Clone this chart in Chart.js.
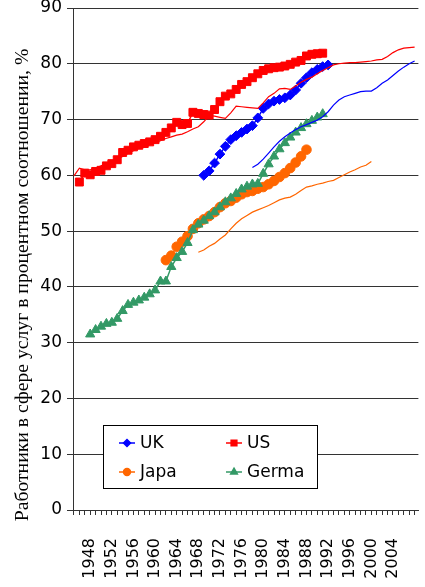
<!DOCTYPE html>
<html>
<head>
<meta charset="utf-8">
<script src="https://cdn.jsdelivr.net/npm/chart.js@4.4.1/dist/chart.umd.min.js"></script>
<style>
  html, body { margin: 0; padding: 0; background: #fff; }
  #wrap { width: 425px; height: 587px; position: relative; }
</style>
</head>
<body>
<div id="wrap"><canvas id="chart"></canvas></div>
<script>
// ===== DATA =====
const years = [1945, 1946, 1947, 1948, 1949, 1950, 1951, 1952, 1953, 1954,
  1955, 1956, 1957, 1958, 1959, 1960, 1961, 1962, 1963, 1964,
  1965, 1966, 1967, 1968, 1969, 1970, 1971, 1972, 1973, 1974,
  1975, 1976, 1977, 1978, 1979, 1980, 1981, 1982, 1983, 1984,
  1985, 1986, 1987, 1988, 1989, 1990, 1991, 1992, 1993, 1994,
  1995, 1996, 1997, 1998, 1999, 2000, 2001, 2002, 2003, 2004,
  2005, 2006, 2007, 2008]
const xTickLabels = [1948, 1952, 1956, 1960, 1964, 1968, 1972, 1976, 1980, 1984, 1988, 1992, 1996, 2000, 2004]
const yTickValues = [0, 10, 20, 30, 40, 50, 60, 70, 80, 90]

// series with markers (first year + yearly values)
const ukFrom = 1969
const ukValues = [60.0, 60.8, 62.2, 63.8, 65.2, 66.4, 67.1, 67.7, 68.3, 68.9, 70.3, 72.0,
  72.8, 73.3, 73.6, 73.9, 74.4, 75.3, 76.5, 77.5, 78.4, 79.0, 79.5, 79.8]
const usFrom = 1946
const usValues = [58.8, 60.4, 60.1, 60.7, 60.9, 61.7, 62.1, 62.8, 64.1, 64.5, 65.1, 65.4,
  65.7, 66.0, 66.4, 67.0, 67.7, 68.5, 69.5, 69.1, 69.3, 71.3, 71.1, 70.9, 70.8, 71.8,
  73.2, 74.2, 74.6, 75.4, 76.3, 76.8, 77.5, 78.2, 78.8, 79.1, 79.3, 79.4, 79.6, 79.9,
  80.3, 80.6, 81.4, 81.7, 81.8, 81.9]
const japanFrom = 1962
const japanValues = [44.8, 45.6, 47.2, 48.1, 49.1, 50.4, 51.4, 52.1, 52.7, 53.4, 54.3,
  55.0, 55.4, 56.0, 56.6, 57.0, 57.2, 57.6, 57.9, 58.4, 59.0, 59.7, 60.4, 61.3, 62.3,
  63.4, 64.6]
const germanyFrom = 1948
const germanyValues = [31.5, 32.3, 32.9, 33.4, 33.6, 34.3, 35.7, 36.8, 37.2, 37.6, 38.1,
  38.7, 39.4, 41.0, 41.0, 43.6, 45.2, 46.3, 47.9, 50.2, 51.2, 51.9, 52.7, 53.4, 54.3,
  55.2, 55.9, 56.7, 57.5, 58.0, 58.4, 58.5, 60.3, 62.0, 63.4, 64.7, 65.8, 66.8, 67.7,
  68.5, 69.2, 69.8, 70.4, 71.0]

// thin lines without markers
const usLineFrom = 1945
const usLineValues = [59.9, 61.3, 61.0, 61.0, 61.3, 61.7, 62.1, 62.4, 62.9, 63.4,
  63.9, 64.4, 64.8, 65.2, 65.5, 65.8, 66.2, 66.6, 66.9, 67.2,
  67.4, 67.8, 68.3, 68.7, 69.6, 70.7, 70.6, 70.4, 70.2, 71.2,
  72.4, 72.3, 72.2, 72.1, 72.0, 73.0, 74.1, 74.7, 75.5, 75.6,
  75.4, 76.0, 76.7, 77.2, 77.6, 78.2, 78.8, 79.3, 79.8, 80.0,
  80.1, 80.2, 80.2, 80.3, 80.4, 80.5, 80.7, 80.8, 81.3, 82.0,
  82.5, 82.8, 82.9, 83.0]
const ukLineFrom = 1978
const ukLineValues = [61.4, 62.0, 62.9, 64.0, 65.1, 66.1, 66.9, 67.6, 68.2, 68.7,
  69.1, 69.5, 69.9, 70.5, 71.4, 72.6, 73.5, 74.1, 74.4, 74.7,
  75.0, 75.1, 75.1, 75.7, 76.5, 77.1, 77.9, 78.7, 79.4, 80.0, 80.5]
const japanLineFrom = 1968
const japanLineValues = [46.2, 46.6, 47.3, 47.8, 48.6, 49.3, 50.4, 51.4, 52.2, 52.8,
  53.4, 53.8, 54.2, 54.6, 55.1, 55.6, 55.9, 56.1, 56.6, 57.3,
  57.9, 58.1, 58.4, 58.6, 58.9, 59.1, 59.6, 60.1, 60.6, 61.0,
  61.5, 61.8, 62.5]

const yTitle = "Работники в сфере услуг в процентном соотношении, %"

// align a series onto the years list (null where there is no value)
function onYears(from, values) {
  const start = years.indexOf(from)
  return years.map((_, i) => {
    const v = values[i - start]
    return v === undefined ? null : v
  })
}

// ===== PLUGINS =====
const boxLegend = {
  id: "boxLegend",
  afterDraw(chart) {
    const ctx = chart.ctx
    const items = chart.data.datasets.filter(d => d.legendSlot !== undefined)
    ctx.save()
    ctx.fillStyle = "#fff"
    ctx.fillRect(103.5, 425.5, 214, 63)
    ctx.strokeStyle = "#000"
    ctx.lineWidth = 1
    ctx.strokeRect(103.5, 425.5, 214, 63)

    const cols = [119, 226]
    const rows = [443, 472]
    items.forEach(d => {
      const x0 = cols[d.legendSlot % 2]
      const y  = rows[Math.floor(d.legendSlot / 2)]
      ctx.strokeStyle = d.borderColor
      ctx.fillStyle   = d.borderColor
      ctx.lineWidth   = 1.5
      ctx.beginPath()
      ctx.moveTo(x0, y)
      ctx.lineTo(x0 + 16, y)
      ctx.stroke()
      Chart.helpers.drawPoint(ctx, {
        pointStyle: d.pointStyle, radius: d.pointRadius * 0.72, rotation: 0, borderWidth: 1
      }, x0 + 8, y)
      ctx.fillStyle = "#000"
      ctx.font = "17px 'DejaVu Sans'"
      ctx.textBaseline = "middle"
      ctx.textAlign = "left"
      ctx.fillText(d.label, x0 + 21, y + 1)
    })

    // vertical axis title
    ctx.translate(23, 285)
    ctx.rotate(-Math.PI / 2)
    ctx.font = "19.7px 'Liberation Serif'"
    ctx.textAlign = "center"
    ctx.textBaseline = "middle"
    ctx.fillStyle = "#000"
    ctx.fillText(yTitle, 0, 0)
    ctx.restore()
  }
}

// ===== CHART =====
const lineColor = "#333"

function markerSet(label, slot, color, style, radius, from, values) {
  return {
    label, legendSlot: slot,
    data: onYears(from, values),
    borderColor: color, backgroundColor: color,
    borderWidth: 1.5,
    pointStyle: style, pointRadius: radius,
    pointBorderWidth: 1, pointBackgroundColor: color, pointBorderColor: color,
    spanGaps: false
  }
}

function thinSet(color, from, values) {
  return {
    label: "",
    data: onYears(from, values),
    borderColor: color, borderWidth: 1.2,
    pointRadius: 0, spanGaps: false
  }
}

const ctx = document.getElementById("chart").getContext("2d")
new Chart(ctx, {
  type: "line",
  data: {
    labels: years,
    // first entries are drawn on top
    datasets: [
      thinSet("#FF0000", usLineFrom, usLineValues),
      thinSet("#0000FF", ukLineFrom, ukLineValues),
      thinSet("#FF6600", japanLineFrom, japanLineValues),
      markerSet("Germa", 3, "#339966", "triangle", 5.3, germanyFrom, germanyValues),
      markerSet("Japa", 2, "#FF6600", "circle", 4.8, japanFrom, japanValues),
      markerSet("US", 1, "#FF0000", "rect", 5.6, usFrom, usValues),
      markerSet("UK", 0, "#0000FF", "rectRot", 4.9, ukFrom, ukValues)
    ]
  },
  options: {
    responsive: true,
    maintainAspectRatio: false,
    animation: false,
    layout: { padding: { top: 8, right: 0, left: 0, bottom: 0 } },
    plugins: { legend: { display: false }, tooltip: { enabled: false } },
    scales: {
      x: {
        type: "linear",
        min: 1944.82,
        max: 2008.7,
        afterBuildTicks(scale) {
          const t = []
          for (let y = 1945; y <= 2008; y++) t.push({ value: y })
          scale.ticks = t
        },
        afterFit(scale) {
          scale.height = 77
          scale.paddingLeft = 0
          scale.paddingRight = 0
        },
        ticks: {
          autoSkip: false,
          minRotation: 90,
          maxRotation: 90,
          padding: 23,
          color: "#000",
          font: { family: "DejaVu Sans", size: 16, lineHeight: 1 },
          callback: v => xTickLabels.includes(v) ? String(v) : ""
        },
        grid: { drawOnChartArea: false, drawTicks: true, tickLength: 5, color: lineColor },
        border: { display: true, color: lineColor, width: 1 }
      },
      y: {
        min: 0,
        max: 90,
        afterBuildTicks(scale) {
          scale.ticks = yTickValues.map(v => ({ value: v }))
        },
        afterFit(scale) {
          scale.width = 73
          scale.paddingTop = 0
          scale.paddingBottom = 0
        },
        ticks: {
          padding: 5,
          color: "#000",
          font: { family: "DejaVu Sans", size: 17, lineHeight: 1 }
        },
        grid: { color: lineColor, lineWidth: 1, tickLength: 6 },
        border: { display: true, color: lineColor, width: 1 }
      }
    }
  },
  plugins: [boxLegend]
})
</script>
</body>
</html>
